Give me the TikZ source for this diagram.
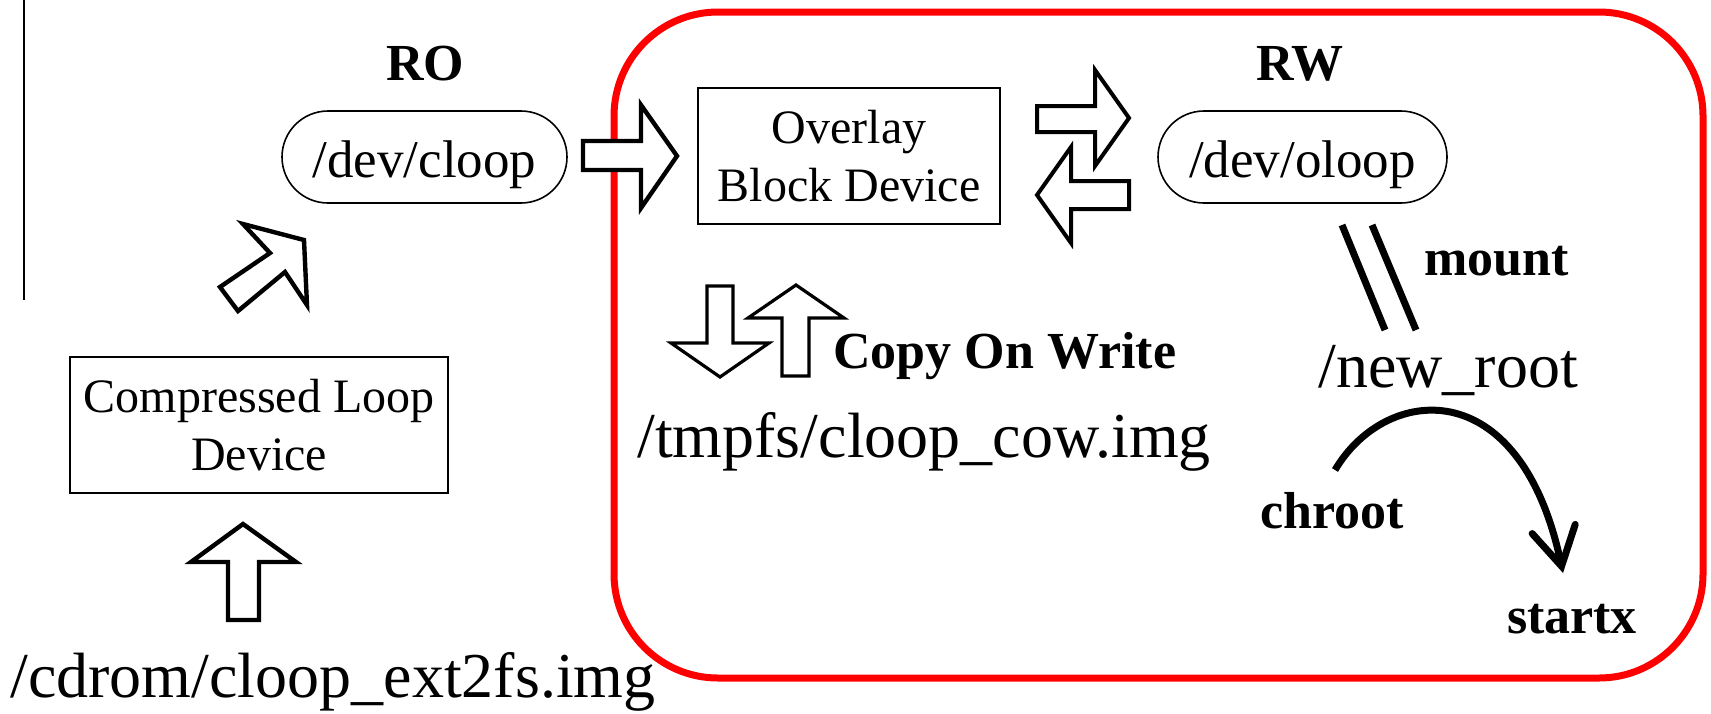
\documentclass[tikz,border=0pt]{standalone}
\usepackage{fontspec}
\setmainfont{Liberation Serif}
\usetikzlibrary{arrows.meta}
\newcommand\fsPath{\fontsize{32}{38}\selectfont}
\newcommand\fsDev{\fontsize{26.5}{31}\selectfont}
\newcommand\fsBox{\fontsize{24}{29}\selectfont}
\newcommand\fsLabel{\fontsize{26}{31}\selectfont\bfseries}
\begin{document}
\begin{tikzpicture}[x=0.5pt,y=-0.5pt,
  box/.style={draw, line width=0.8pt, inner sep=0pt, align=center, font=\fsBox},
  pill/.style={draw, line width=0.8pt, inner sep=0pt, rounded corners=23pt,
    minimum height=46pt, text height=20pt, text depth=0pt, font=\fsDev},
  blockarrow/.style={draw, line width=2.2pt, fill=white, line join=miter},
  thinarrow/.style={blockarrow, line width=1.6pt},
  lbl/.style={inner sep=0pt, anchor=base, font=\fsLabel},
  pathtxt/.style={inner sep=0pt, anchor=base, font=\fsPath},
  group/.style={draw=red, line width=3.5pt, rounded corners=52pt},
  stroke/.style={line width=3.5pt}
]
\useasboundingbox (0,0) rectangle (1711,713);

% margin rule on the left
\draw[line width=0.75pt] (24,0) -- (24,300);

% read-write region
\draw[group] (614,12) rectangle (1703,678);

% devices
\node[box, minimum width=189pt, minimum height=68pt] (cld) at (259,425) {Compressed Loop\\Device};
\node[pill, minimum width=142.5pt] (cloop) at (424.5,157) {/dev/cloop};
\node[box, minimum width=151pt, minimum height=68pt] (obd) at (849,156) {Overlay\\Block Device};
\node[pill, minimum width=144.5pt] (oloop) at (1302.5,157) {/dev/oloop};

% labels
\node[lbl] (ro) at (425,80) {RO};
\node[lbl] (rw) at (1300,80) {RW};
\node[lbl, anchor=base west] (cow) at (833,368) {Copy On Write};
\node[lbl] (mount) at (1496.5,275) {mount};
\node[lbl] (chroot) at (1332.5,528) {chroot};
\node[lbl] (startx) at (1572,633) {startx};

% file names
\node[pathtxt] (img) at (333,697) {/cdrom/cloop\_ext2fs.img};
\node[pathtxt] (cowimg) at (924,457) {/tmpfs/cloop\_cow.img};
\node[pathtxt] (newroot) at (1448,387) {/new\_root};

% block arrows
\draw[blockarrow] (243,524) -- (296,562) -- (259,562) -- (259,620) -- (228,620) -- (228,562) -- (191,562) -- cycle;
\draw[blockarrow] (220,287) -- (238,311) -- (285,272) -- (307,305) -- (304,240) -- (243,224) -- (270,253) -- cycle;
\draw[blockarrow] (583,141) -- (641,141) -- (641,105) -- (677,156) -- (641,208) -- (641,170) -- (583,170) -- cycle;
\draw[blockarrow, line width=2pt] (1037,106) -- (1095,106) -- (1095,70) -- (1129,118) -- (1095,166) -- (1095,132) -- (1037,132) -- cycle;
\draw[blockarrow, line width=2pt] (1129,181) -- (1071,181) -- (1071,147) -- (1037,195) -- (1071,243) -- (1071,209) -- (1129,209) -- cycle;
\draw[thinarrow] (707,286) -- (733,286) -- (733,343) -- (769,343) -- (720,377) -- (671,343) -- (707,343) -- cycle;
\draw[thinarrow] (796,285) -- (844,318) -- (809,318) -- (809,376) -- (782,376) -- (782,318) -- (748,318) -- cycle;

% mount: double stroke from /dev/oloop to /new_root
\coordinate (mA1) at (1342,225);
\coordinate (mA2) at (1385,330);
\coordinate (mB1) at (1372,225);
\coordinate (mB2) at (1416,330);
\draw[stroke] (mA1) -- (mA2);
\draw[stroke] (mB1) -- (mB2);

% chroot arc
\coordinate (arcS) at (1335,470);
\coordinate (arcE) at (1563,573);
\draw[stroke, -{Straight Barb[length=19pt,width=22pt,line cap=round]}]
  (arcS) .. controls (1385,385) and (1520,370) .. (arcE);
\end{tikzpicture}
\end{document}
